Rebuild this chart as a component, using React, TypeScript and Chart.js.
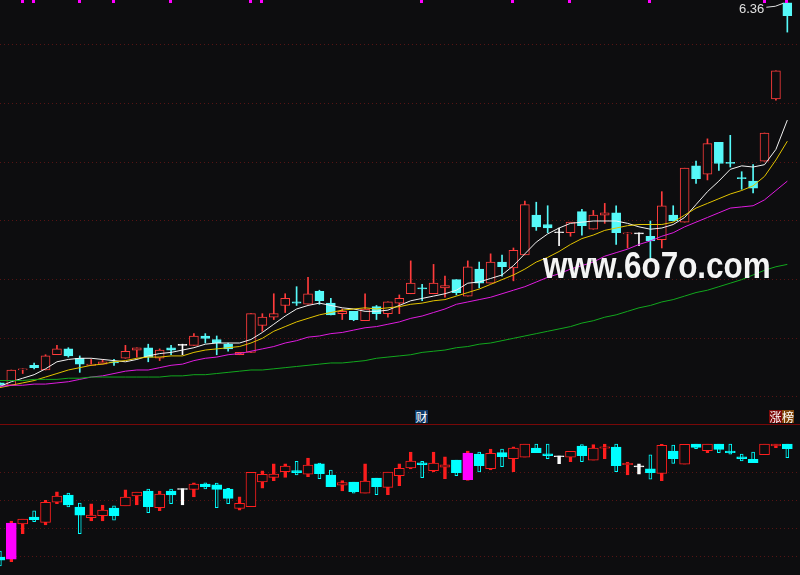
import { useEffect, useRef } from 'react';
import { Chart, registerables, type ChartConfiguration, type Plugin } from 'chart.js';

Chart.register(...registerables);

const BG = '#0d0d0f';
const GRID = '#561414';
const UP = '#ff3c3c';
const DOWN = '#56f9f9';
const SUB_UP = '#ff1e1e';
const SUB_DOWN = '#00ffff';
const HOT = '#ff00ff';

// price panel (daily candles)
const topOpen = [3.12, 3.10, 3.23, 3.27, 3.23, 3.36, 3.41, 3.33, 3.27, 3.28, 3.30, 3.33, 3.40, 3.42, 3.33, 3.42, 3.44, 3.44, 3.52, 3.49, 3.45, 3.36, 3.38, 3.61, 3.68, 3.78, 3.81, 3.79, 3.90, 3.80, 3.71, 3.73, 3.65, 3.77, 3.71, 3.80, 3.88, 3.93, 3.88, 3.93, 4.00, 3.86, 4.09, 3.97, 4.15, 4.10, 4.21, 4.55, 4.47, 4.40, 4.40, 4.58, 4.43, 4.55, 4.57, 4.39, 4.39, 4.37, 4.34, 4.55, 4.49, 4.97, 4.90, 5.17, 5.00, 4.87, 4.84, 5.01, 5.54, 6.36];
const topHigh = [3.12, 3.23, 3.24, 3.29, 3.36, 3.44, 3.42, 3.35, 3.32, 3.32, 3.32, 3.44, 3.42, 3.45, 3.41, 3.44, 3.45, 3.54, 3.54, 3.52, 3.46, 3.38, 3.71, 3.71, 3.88, 3.88, 3.94, 4.02, 3.91, 3.84, 3.75, 3.73, 3.88, 3.78, 3.81, 3.87, 4.16, 3.96, 4.13, 4.03, 4.00, 4.16, 4.15, 4.22, 4.21, 4.27, 4.67, 4.66, 4.63, 4.44, 4.49, 4.60, 4.59, 4.65, 4.63, 4.40, 4.40, 4.50, 4.75, 4.63, 4.95, 5.01, 5.20, 5.17, 5.23, 4.92, 4.98, 5.25, 5.78, 6.36];
const topLow = [3.10, 3.10, 3.20, 3.24, 3.23, 3.36, 3.34, 3.21, 3.27, 3.28, 3.27, 3.33, 3.34, 3.30, 3.31, 3.36, 3.36, 3.44, 3.46, 3.36, 3.39, 3.36, 3.38, 3.56, 3.66, 3.72, 3.78, 3.79, 3.79, 3.70, 3.66, 3.65, 3.65, 3.66, 3.68, 3.71, 3.88, 3.82, 3.88, 3.85, 3.87, 3.86, 3.93, 3.97, 4.03, 3.99, 4.21, 4.42, 4.40, 4.29, 4.37, 4.38, 4.43, 4.48, 4.30, 4.27, 4.29, 4.17, 4.27, 4.50, 4.49, 4.82, 4.85, 4.93, 4.96, 4.77, 4.74, 5.01, 5.53, 6.11];
const topClose = [3.10, 3.23, 3.24, 3.25, 3.35, 3.41, 3.35, 3.28, 3.28, 3.30, 3.29, 3.39, 3.42, 3.34, 3.40, 3.40, 3.44, 3.52, 3.50, 3.46, 3.41, 3.38, 3.71, 3.68, 3.71, 3.84, 3.80, 3.88, 3.82, 3.70, 3.73, 3.66, 3.75, 3.71, 3.81, 3.84, 3.97, 3.92, 3.97, 3.95, 3.89, 4.11, 3.97, 4.15, 4.11, 4.25, 4.64, 4.45, 4.44, 4.40, 4.49, 4.46, 4.55, 4.57, 4.40, 4.40, 4.39, 4.33, 4.63, 4.50, 4.95, 4.86, 5.16, 4.99, 4.99, 4.86, 4.78, 5.25, 5.78, 6.25];

const ma5 = [3.09, 3.13, 3.16, 3.19, 3.24, 3.30, 3.32, 3.33, 3.33, 3.32, 3.31, 3.30, 3.32, 3.35, 3.37, 3.38, 3.40, 3.42, 3.45, 3.46, 3.46, 3.46, 3.49, 3.55, 3.62, 3.69, 3.75, 3.78, 3.80, 3.78, 3.76, 3.75, 3.73, 3.73, 3.74, 3.78, 3.82, 3.84, 3.86, 3.88, 3.91, 3.97, 3.98, 4.01, 4.04, 4.12, 4.22, 4.32, 4.39, 4.44, 4.48, 4.49, 4.50, 4.50, 4.50, 4.48, 4.45, 4.43, 4.44, 4.47, 4.53, 4.64, 4.75, 4.84, 4.94, 4.97, 4.96, 4.98, 5.11, 5.36];
const ma10 = [3.08, 3.10, 3.12, 3.14, 3.17, 3.20, 3.23, 3.25, 3.27, 3.28, 3.30, 3.31, 3.33, 3.34, 3.34, 3.35, 3.35, 3.38, 3.40, 3.41, 3.42, 3.43, 3.46, 3.50, 3.56, 3.60, 3.64, 3.67, 3.70, 3.72, 3.74, 3.75, 3.76, 3.75, 3.76, 3.77, 3.79, 3.80, 3.82, 3.83, 3.86, 3.89, 3.92, 3.96, 4.00, 4.04, 4.09, 4.15, 4.19, 4.24, 4.30, 4.35, 4.38, 4.42, 4.44, 4.46, 4.47, 4.47, 4.47, 4.49, 4.55, 4.61, 4.65, 4.69, 4.73, 4.76, 4.80, 4.88, 5.02, 5.18];
const ma20 = [3.09, 3.10, 3.10, 3.11, 3.11, 3.12, 3.13, 3.15, 3.17, 3.18, 3.20, 3.22, 3.23, 3.23, 3.25, 3.27, 3.28, 3.31, 3.33, 3.34, 3.36, 3.37, 3.39, 3.41, 3.43, 3.46, 3.48, 3.51, 3.52, 3.54, 3.55, 3.57, 3.59, 3.60, 3.62, 3.64, 3.67, 3.69, 3.72, 3.75, 3.79, 3.81, 3.83, 3.85, 3.88, 3.91, 3.94, 3.98, 4.02, 4.05, 4.09, 4.12, 4.15, 4.20, 4.23, 4.26, 4.30, 4.33, 4.37, 4.40, 4.45, 4.49, 4.53, 4.57, 4.61, 4.62, 4.63, 4.68, 4.76, 4.84];
const ma60 = [3.14, 3.14, 3.14, 3.15, 3.15, 3.15, 3.16, 3.16, 3.17, 3.17, 3.17, 3.17, 3.17, 3.17, 3.17, 3.18, 3.18, 3.19, 3.19, 3.20, 3.21, 3.22, 3.23, 3.23, 3.24, 3.25, 3.26, 3.27, 3.28, 3.29, 3.29, 3.30, 3.31, 3.33, 3.34, 3.35, 3.36, 3.38, 3.39, 3.40, 3.42, 3.43, 3.45, 3.46, 3.48, 3.50, 3.52, 3.54, 3.56, 3.58, 3.60, 3.63, 3.65, 3.68, 3.70, 3.73, 3.76, 3.78, 3.81, 3.83, 3.86, 3.89, 3.91, 3.94, 3.97, 4.00, 4.04, 4.08, 4.11, 4.13];

const priceTicks = [3.0, 3.5, 4.0, 4.5, 5.0, 5.5, 6.0];
const signalIdx = [2, 3, 7, 10, 15, 22, 23, 37, 45, 50, 57, 67, 69];
const highLabel = '6.36';

// lower indicator panel
const subOpen = [-0.4, -1.1, 11.5, 13.9, 12.0, 19.2, 21.8, 17.5, 13.7, 14.4, 17.1, 17.9, 21.5, 23.2, 17.3, 23.2, 24.1, 23.8, 25.7, 25.4, 23.9, 17.0, 17.6, 26.5, 28.1, 30.1, 30.5, 29.2, 32.9, 28.9, 25.3, 26.4, 22.4, 27.8, 24.5, 28.7, 31.5, 33.3, 30.5, 31.7, 34.3, 27.3, 36.4, 31.2, 36.9, 34.8, 35.3, 38.5, 36.5, 35.8, 35.3, 39.3, 34.2, 38.5, 38.9, 32.6, 32.2, 31.1, 29.5, 37.5, 32.8, 40.0, 37.6, 40.0, 37.5, 35.4, 34.5, 36.2, 39.3, 40.0];
const subHigh = [1.8, 12.5, 13.2, 16.1, 19.9, 22.9, 22.5, 18.9, 18.6, 18.2, 17.9, 23.6, 22.8, 23.9, 23.2, 23.9, 24.1, 26.1, 26.1, 26.0, 24.2, 21.1, 29.9, 30.4, 32.9, 32.9, 33.8, 35.0, 33.2, 30.7, 26.9, 26.4, 32.9, 27.8, 30.0, 32.9, 37.1, 33.8, 37.1, 35.4, 34.3, 37.5, 37.1, 38.2, 38.2, 39.0, 40.0, 40.0, 40.0, 35.8, 37.4, 39.8, 39.8, 40.0, 40.0, 33.5, 32.9, 36.1, 39.9, 39.6, 39.9, 40.0, 40.0, 40.0, 40.0, 36.4, 37.1, 40.0, 40.0, 40.0];
const subLow = [-3.5, -2.0, 8.0, 12.3, 11.1, 18.7, 17.5, 8.0, 12.5, 12.5, 12.8, 17.9, 18.2, 15.5, 16.2, 18.7, 18.2, 21.1, 24.0, 17.3, 18.7, 16.4, 17.6, 24.2, 26.9, 28.1, 29.0, 28.3, 27.6, 24.8, 23.2, 22.4, 22.4, 21.9, 21.9, 25.1, 31.1, 28.0, 30.0, 27.6, 28.7, 27.0, 30.0, 30.7, 31.9, 30.1, 35.3, 36.9, 34.8, 33.0, 33.7, 33.7, 34.2, 34.8, 30.1, 29.0, 29.2, 27.4, 26.9, 33.1, 32.8, 38.3, 36.9, 36.9, 36.4, 34.0, 33.3, 36.2, 38.7, 35.1];
const subClose = [-1.5, 11.8, 13.2, 13.0, 19.2, 21.4, 18.2, 14.6, 14.6, 16.4, 14.4, 21.0, 22.8, 17.6, 22.1, 21.8, 24.1, 25.7, 24.8, 23.8, 20.6, 18.8, 29.9, 29.2, 29.3, 32.1, 29.8, 32.5, 29.4, 24.8, 26.2, 23.0, 26.8, 24.8, 30.0, 31.3, 33.9, 32.6, 33.2, 32.6, 29.8, 36.8, 32.3, 36.7, 35.5, 38.5, 40.0, 36.9, 35.8, 35.8, 37.4, 35.8, 38.5, 39.0, 32.3, 33.1, 32.2, 29.8, 39.5, 34.8, 39.9, 38.8, 40.0, 38.1, 36.9, 34.8, 33.3, 40.0, 40.0, 38.3];
const hotBars = [1, 41];
const subTicks = [0, 10, 20, 30];

const X_MIN = 0.01;
const X_MAX = 70.11;
const TOP_H = 424;
const SUB_H = 150;

const gridY = (min: number, max: number, ticks: number[]) => ({
  min,
  max,
  afterBuildTicks: (s: any) => { s.ticks = ticks.map((value) => ({ value })); },
  ticks: { display: false },
  grid: { color: GRID, drawTicks: false, lineWidth: 1 },
  border: { display: false, dash: [1, 3] },
});

const baseOptions = (y: any): any => ({
  responsive: false,
  animation: false,
  events: [],
  layout: { padding: 0 },
  plugins: { legend: { display: false }, tooltip: { enabled: false } },
  scales: {
    x: { type: 'linear', min: X_MIN, max: X_MAX, display: false, offset: false },
    y,
  },
});

const maLine = (vals: number[], color: string) => ({
  type: 'line' as const,
  data: vals.map((y, i) => ({ x: i, y })),
  borderColor: color,
  borderWidth: 1,
  pointRadius: 0,
  tension: 0,
  order: 0,
});

const topMarks: Plugin = {
  id: 'topMarks',
  afterDatasetsDraw(chart) {
    const { ctx } = chart;
    const x = chart.scales.x;
    const y = chart.scales.y;
    ctx.save();
    ctx.fillStyle = '#ff00ff';
    signalIdx.forEach((i) => {
      ctx.fillRect(Math.round(x.getPixelForValue(i)) - 2, 0, 3, 3);
    });
    const last = topHigh.length - 1;
    const hx = x.getPixelForValue(last);
    const hy = y.getPixelForValue(topHigh[last]);
    ctx.strokeStyle = '#e0e0e0';
    ctx.lineWidth = 1;
    ctx.beginPath();
    ctx.moveTo(hx - 21, hy + 4.5);
    ctx.lineTo(hx - 12, hy + 3.5);
    ctx.lineTo(hx - 4, hy + 0.5);
    ctx.stroke();
    ctx.fillStyle = '#e0e0e0';
    ctx.font = '13px "Liberation Sans Narrow", "Liberation Sans", sans-serif';
    ctx.textAlign = 'right';
    ctx.textBaseline = 'alphabetic';
    ctx.fillText(highLabel, hx - 23, hy + 10.5);
    ctx.restore();
  },
};

function topConfig(): ChartConfiguration {
  const idx = topOpen.map((_, i) => i);
  const col = idx.map((i) => (topClose[i] > topOpen[i] ? UP : topClose[i] < topOpen[i] ? DOWN : '#ffffff'));
  const fill = idx.map((i) => (topClose[i] > topOpen[i] ? BG : col[i]));
  return {
    type: 'bar',
    data: {
      datasets: [
        {
          data: idx.map((i) => ({ x: i, y: [topLow[i], topHigh[i]] })),
          backgroundColor: col,
          borderWidth: 0,
          barThickness: 1,
          grouped: false,
          order: 3,
        } as any,
        {
          data: idx.map((i) => ({ x: i, y: [Math.min(topOpen[i], topClose[i]), Math.max(topOpen[i], topClose[i])] })),
          backgroundColor: fill,
          borderColor: col,
          borderWidth: 1,
          borderSkipped: false,
          barThickness: 9,
          minBarLength: 1,
          grouped: false,
          order: 2,
        } as any,
        maLine(ma60, '#12a81e'),
        maLine(ma20, '#e01ce0'),
        maLine(ma10, '#e3c400'),
        maLine(ma5, '#f2f2f2'),
      ],
    },
    options: baseOptions(gridY(6.3835 - TOP_H * 0.008523, 6.3835, priceTicks)),
    plugins: [topMarks],
  };
}

function subConfig(): ChartConfiguration {
  const idx = subOpen.map((_, i) => i);
  const hot = (i: number) => hotBars.includes(i);
  const col = idx.map((i) => (subClose[i] > subOpen[i] ? SUB_UP : subClose[i] < subOpen[i] ? SUB_DOWN : '#ffffff'));
  const wickFill = idx.map((i) => (col[i] === SUB_DOWN ? BG : col[i]));
  const bodyCol = idx.map((i) => (hot(i) ? HOT : col[i]));
  const bodyFill = idx.map((i) => (hot(i) ? HOT : subClose[i] > subOpen[i] ? BG : col[i]));
  return {
    type: 'bar',
    data: {
      datasets: [
        {
          data: idx.map((i) => ({ x: i, y: [subLow[i], subHigh[i]] })),
          backgroundColor: wickFill,
          borderColor: col,
          borderWidth: 1,
          borderSkipped: false,
          barThickness: 3,
          grouped: false,
          order: 3,
        } as any,
        {
          data: idx.map((i) => ({ x: i, y: [Math.min(subOpen[i], subClose[i]), Math.max(subOpen[i], subClose[i])] })),
          backgroundColor: bodyFill,
          borderColor: bodyCol,
          borderWidth: 1,
          borderSkipped: false,
          barThickness: 10,
          minBarLength: 1,
          grouped: false,
          order: 2,
        } as any,
      ],
    },
    // 2.8 px per unit, zero line 131 px below the panel top
    options: baseOptions(gridY(-(SUB_H - 131) / 2.8, 131 / 2.8, subTicks)),
  };
}

const badge = (left: number, width: number, bg: string): React.CSSProperties => ({
  position: 'absolute',
  left,
  top: 410,
  width,
  height: 13,
  background: bg,
  color: '#ffffff',
  fontSize: 12,
  lineHeight: '13px',
  textAlign: 'center',
  fontFamily: '"Noto Sans CJK SC", sans-serif',
  overflow: 'hidden',
});

export default function App() {
  const topRef = useRef<HTMLCanvasElement>(null);
  const subRef = useRef<HTMLCanvasElement>(null);

  useEffect(() => {
    document.body.style.margin = '0';
    document.body.style.background = BG;
    if (!topRef.current || !subRef.current) return;
    const a = new Chart(topRef.current, topConfig());
    const b = new Chart(subRef.current, subConfig());
    return () => { a.destroy(); b.destroy(); };
  }, []);

  return (
    <div style={{ position: 'relative', width: 800, height: 575, background: BG, overflow: 'hidden' }}>
      <canvas ref={topRef} width={800} height={TOP_H} style={{ position: 'absolute', left: 0, top: 0 }} />
      <div style={{ position: 'absolute', left: 0, top: TOP_H, width: 800, height: 1, background: '#780808' }} />
      <canvas ref={subRef} width={800} height={SUB_H} style={{ position: 'absolute', left: 0, top: TOP_H + 1 }} />
      <div
        style={{
          position: 'absolute',
          left: 543,
          top: 247,
          fontFamily: '"Liberation Sans", Arial, sans-serif',
          fontWeight: 'bold',
          fontSize: 37,
          lineHeight: '37px',
          color: '#f4f4f4',
          whiteSpace: 'nowrap',
          transform: 'scaleX(0.85)',
          transformOrigin: 'left top',
        }}
      >
        www.6o7o.com
      </div>
      <div style={badge(415, 13, '#0d3866')}>财</div>
      <div style={badge(769, 13, '#7e0a0a')}>涨</div>
      <div style={badge(782, 12, '#80460a')}>榜</div>
    </div>
  );
}
